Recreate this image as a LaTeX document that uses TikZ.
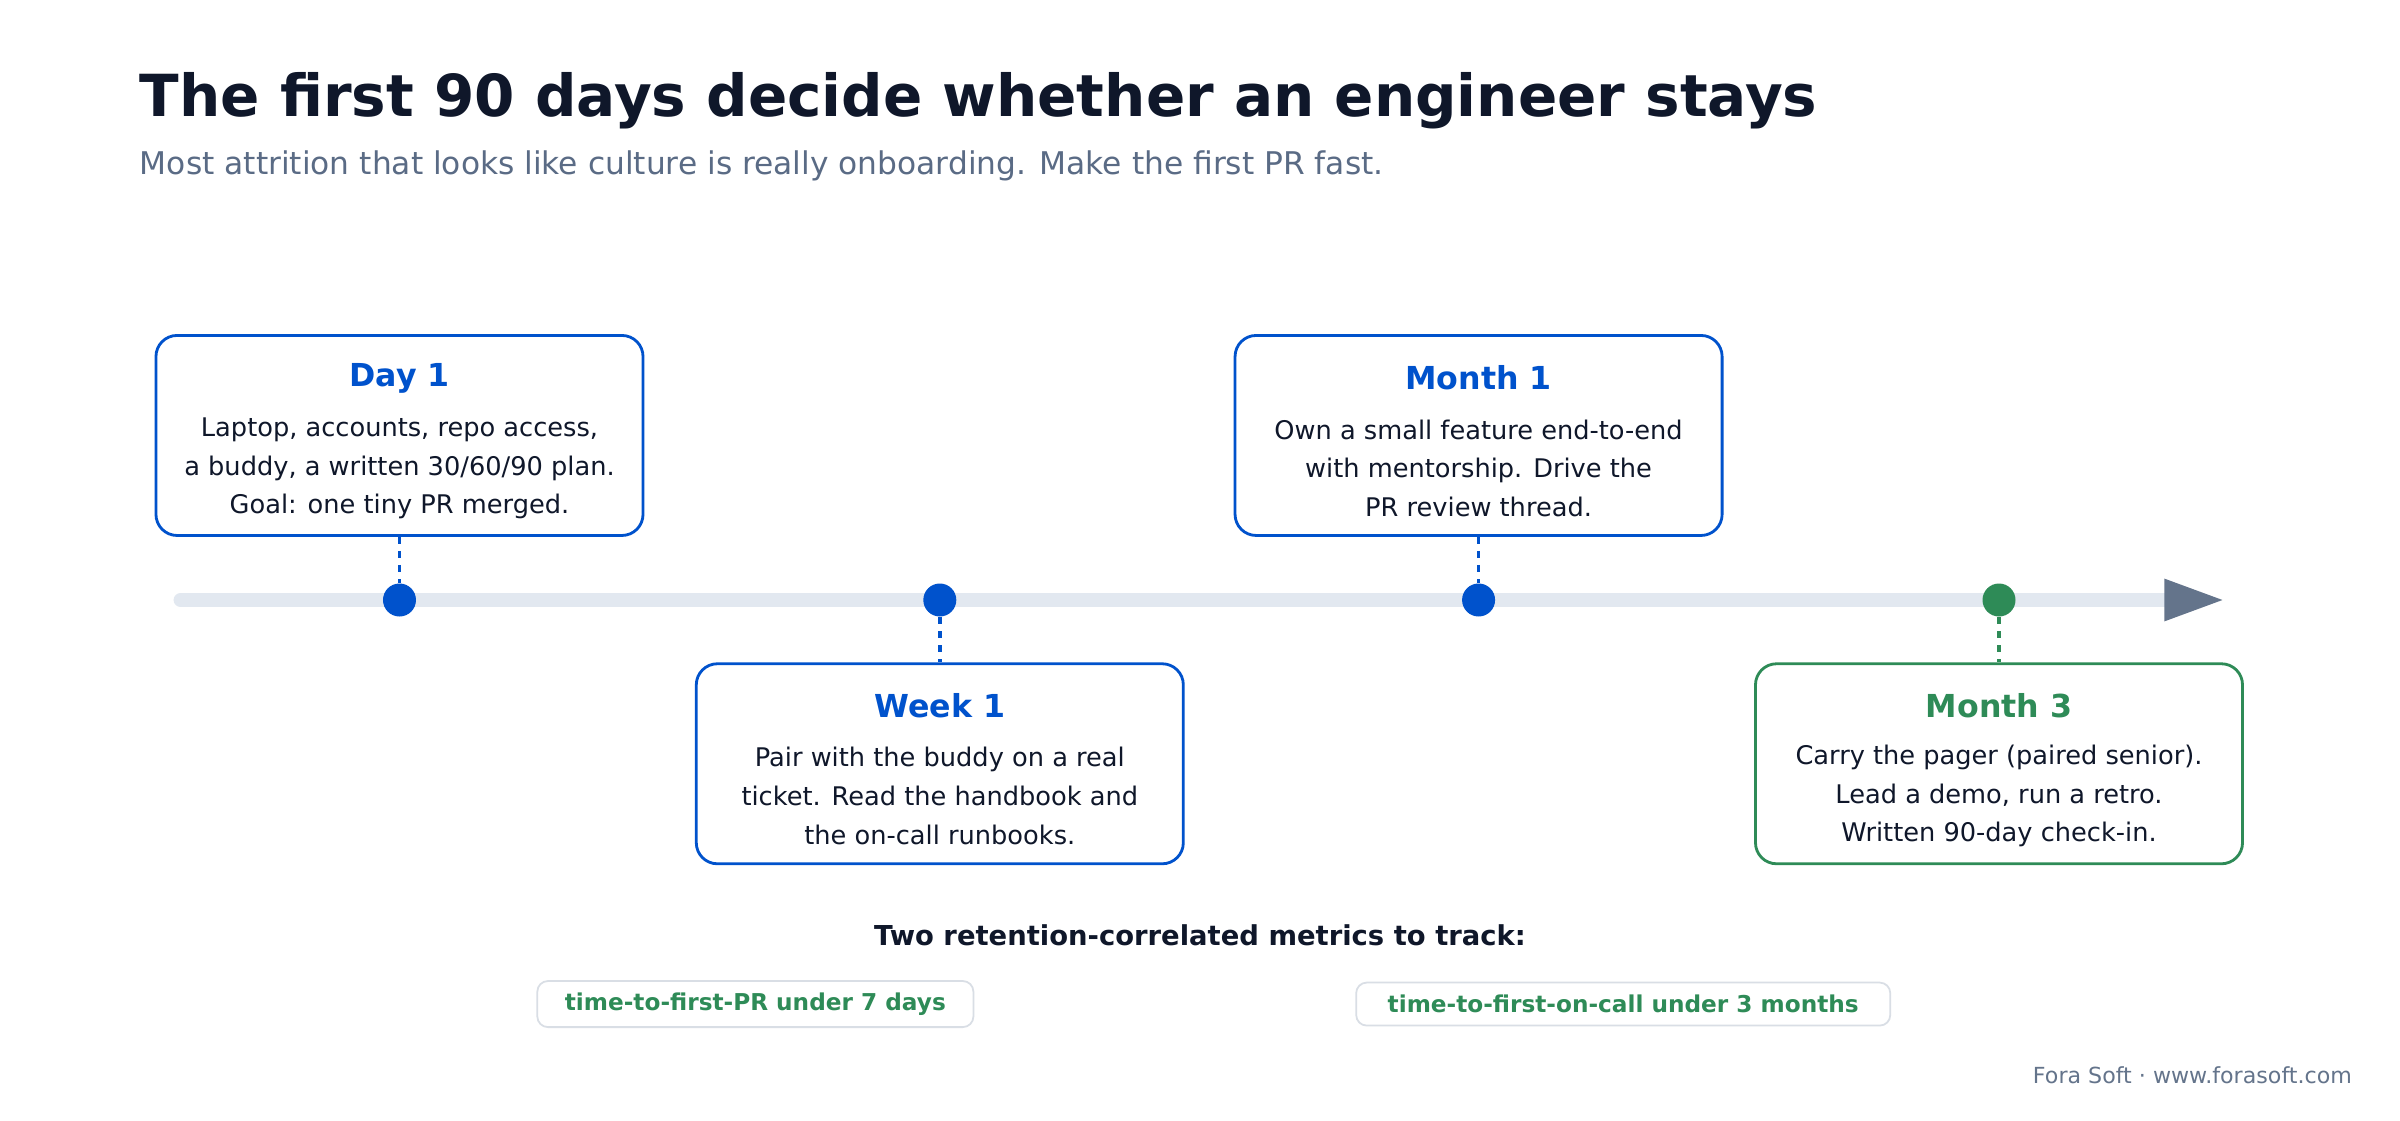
\documentclass[tikz,border=0pt]{standalone}
\usepackage{fontspec}
\setmainfont{DejaVu Sans}
\usetikzlibrary{arrows.meta}
\usetikzlibrary{calc}
\definecolor{ink}{HTML}{0F172A}
\definecolor{muted}{HTML}{5A6B85}
\definecolor{blu}{HTML}{0052CC}
\definecolor{grn}{HTML}{2E8B57}
\definecolor{track}{HTML}{E2E8F0}
\definecolor{tip}{HTML}{64748B}
\definecolor{pill}{HTML}{D9DEE5}
\tikzset{
  card/.style={draw=#1, line width=0.8pt, rounded corners=6pt, fill=white,
    minimum width=4.87cm, minimum height=2.0cm},
  head/.style={text=#1, font=\bfseries\fontsize{9}{11}\selectfont},
  body/.style={text=ink, align=center, font=\fontsize{7.3}{11}\selectfont},
  dot/.style={circle, fill=#1, minimum size=0.33cm, inner sep=0pt},
  stem/.style={draw=#1, line width=1pt, dash pattern=on 2pt off 2pt},
  tag/.style={draw=pill, line width=0.5pt, rounded corners=3pt, fill=white,
    text=grn, font=\bfseries\fontsize{6.6}{8}\selectfont, minimum height=0.43cm}
}
\begin{document}
\begin{tikzpicture}[x=0.0153cm, y=-0.0153cm]
                \useasboundingbox[fill=white] (0,0) rectangle (1568,732);
                \node[anchor=base west, text=ink, font=\bfseries\fontsize{16.5}{19}\selectfont, inner sep=0] (title) at (91,76) {The first 90 days decide whether an engineer stays};
                \node[anchor=base west, text=muted, font=\fontsize{8.9}{10}\selectfont, inner sep=0] (sub) at (91,114) {Most attrition that looks like culture is really onboarding. Make the first PR fast.};
                % timeline
                \coordinate (t0) at (118,392);
                \coordinate (t1) at (1414,392);
                \draw[track, line width=4pt, line cap=round] (t0) -- (t1);
                \fill[tip] (1414,378) -- (1452,392) -- (1414,406) -- cycle;
                \node[dot=blu] (d1) at (261,392) {};
                \node[dot=blu] (w1) at (614,392) {};
                \node[dot=blu] (m1) at (966,392) {};
                \node[dot=grn] (m3) at (1306,392) {};
                % cards
                \node[card=blu] (cd1) at (261,284.5) {};
                \node[card=blu] (cw1) at (614,499) {};
                \node[card=blu] (cm1) at (966,284.5) {};
                \node[card=grn] (cm3) at (1306,499) {};
                \draw[stem=blu] (cd1.south) -- (d1);
                \draw[stem=blu] (w1) -- (cw1.north);
                \draw[stem=blu] (cm1.south) -- (m1);
                \draw[stem=grn] (m3) -- (cm3.north);
                \node[head=blu] (hd1) at (261,247) {Day 1};
                \node[body] (bd1) at (261,306) {Laptop, accounts, repo access,\\a buddy, a written 30/60/90 plan.\\Goal: one tiny PR merged.};
                \node[head=blu] (hw1) at (614,461) {Week 1};
                \node[body] (bw1) at (614,520) {Pair with the buddy on a real\\ticket. Read the handbook and\\the on-call runbooks.};
                \node[head=blu] (hm1) at (966,247) {Month 1};
                \node[body] (bm1) at (966,306) {Own a small feature end-to-end\\with mentorship. Drive the\\PR review thread.};
                \node[head=grn] (hm3) at (1306,461) {Month 3};
                \node[body] (bm3) at (1306,520) {Carry the pager (paired senior).\\Lead a demo, run a retro.\\Written 90-day check-in.};
                % metrics
                \node[text=ink, font=\bfseries\fontsize{7.8}{9}\selectfont] (mt) at (784,611) {Two retention-correlated metrics to track:};
                \node[tag, minimum width=4.36cm] (p1) at (493.5,656) {time-to-first-PR under 7 days};
                \node[tag, minimum width=5.34cm] (p2) at (1060.5,656) {time-to-first-on-call under 3 months};
                \node[anchor=base east, text=tip, font=\fontsize{6.3}{8}\selectfont, inner sep=0] (foot) at (1537,708) {Fora Soft · www.forasoft.com};
            \end{tikzpicture}
\end{document}
